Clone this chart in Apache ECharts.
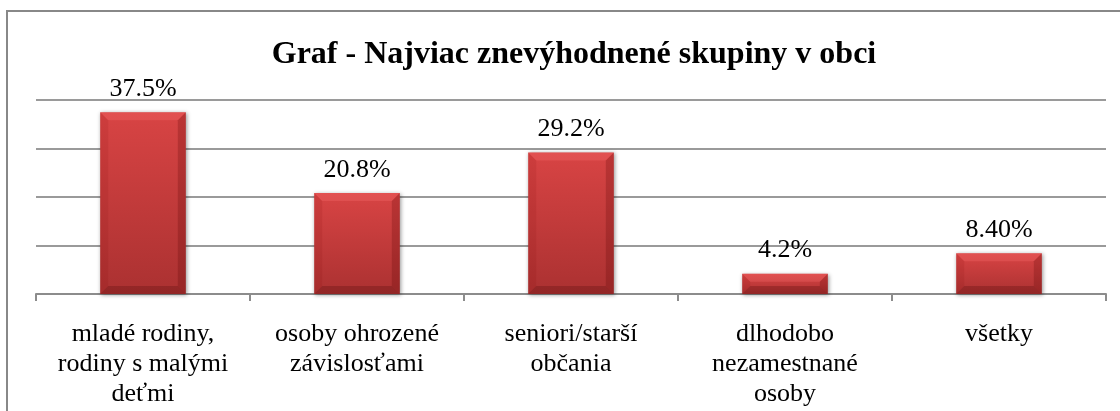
<!DOCTYPE html>
<html>
<head>
<meta charset="utf-8">
<script src="https://cdn.jsdelivr.net/npm/echarts@6/dist/echarts.min.js"></script>
<style>
  html, body { margin: 0; padding: 0; background: #fff; }
  #chart { width: 1120px; height: 411px; }
</style>
</head>
<body>
<div id="chart"></div>
<script>
// data
const categories = [
  "mladé rodiny,\nrodiny s malými\ndeťmi",
  "osoby ohrozené\nzávislosťami",
  "seniori/starší\nobčania",
  "dlhodobo\nnezamestnané\nosoby",
  "všetky",
];
const values = [37.5, 20.8, 29.2, 4.2, 8.4];
const valueLabels = ["37.5%", "20.8%", "29.2%", "4.2%", "8.40%"];

const serif = '"Liberation Serif", "Times New Roman", serif';

// bar with bevel edges, like the office chart
function renderBar(params, api) {
  const idx = api.value(0);
  const v = api.value(1);
  const base = api.coord([idx, 0]);
  const top = api.coord([idx, v]);
  const w = api.size([1, 0])[0] * 0.4;
  const x0 = base[0] - w / 2;
  const x1 = base[0] + w / 2;
  const y0 = top[1];
  const y1 = base[1];
  const b = Math.min(8, (y1 - y0) / 2);
  return {
    type: "group",
    children: [
      {
        type: "rect",
        shape: { x: x0, y: y0, width: w, height: y1 - y0 },
        style: {
          fill: new echarts.graphic.LinearGradient(0, 0, 0, 1, [
            { offset: 0, color: "#d84444" },
            { offset: 1, color: "#ab3131" },
          ]),
          shadowBlur: 4,
          shadowOffsetX: 1,
          shadowOffsetY: 1,
          shadowColor: "rgba(0,0,0,0.4)",
        },
      },
      {
        // top bevel
        type: "polygon",
        shape: { points: [[x0, y0], [x1, y0], [x1 - b, y0 + b], [x0 + b, y0 + b]] },
        style: { fill: "rgba(255,120,120,0.25)" },
      },
      {
        // left bevel
        type: "polygon",
        shape: { points: [[x0, y0], [x0 + b, y0 + b], [x0 + b, y1 - b], [x0, y1]] },
        style: { fill: "rgba(120,0,0,0.1)" },
      },
      {
        // right bevel
        type: "polygon",
        shape: { points: [[x1, y0], [x1 - b, y0 + b], [x1 - b, y1 - b], [x1, y1]] },
        style: { fill: "rgba(80,0,0,0.22)" },
      },
      {
        // bottom bevel
        type: "polygon",
        shape: { points: [[x0, y1], [x0 + b, y1 - b], [x1 - b, y1 - b], [x1, y1]] },
        style: { fill: "rgba(60,0,0,0.22)" },
      },
      {
        type: "text",
        style: {
          x: base[0],
          y: y0 - 10,
          text: valueLabels[idx],
          font: "26px " + serif,
          fill: "#000",
          align: "center",
          verticalAlign: "bottom",
        },
      },
    ],
  };
}

const myChart = echarts.init(document.getElementById("chart"));
const option = {
  animation: false,
  title: {
    text: "Graf - Najviac znevýhodnené skupiny v obci",
    left: 574,
    top: 39,
    textAlign: "center",
    padding: 0,
    textStyle: {
      fontFamily: serif,
      fontSize: 32,
      fontWeight: "bold",
      color: "#000",
    },
  },
  graphic: [
    {
      // outer frame
      type: "rect",
      shape: { x: 7, y: 11, width: 1200, height: 500 },
      style: { fill: "none", stroke: "#888", lineWidth: 2 },
      silent: true,
    },
  ],
  grid: {
    left: 36,
    right: 14,
    top: 100,
    bottom: 117,
  },
  xAxis: {
    type: "category",
    data: categories,
    axisLine: { lineStyle: { color: "#8c8c8c", width: 2 } },
    axisTick: { show: true, length: 7, lineStyle: { color: "#8c8c8c", width: 2 } },
    axisLabel: {
      interval: 0,
      margin: 25,
      fontFamily: serif,
      fontSize: 26,
      lineHeight: 30,
      color: "#000",
      align: "center",
    },
  },
  yAxis: {
    type: "value",
    min: 0,
    max: 40,
    interval: 10,
    axisLine: { show: false },
    axisTick: { show: false },
    axisLabel: { show: false },
    splitLine: { lineStyle: { color: "#9a9a9a", width: 2 } },
  },
  series: [
    {
      type: "custom",
      renderItem: renderBar,
      data: values.map((v, i) => [i, v]),
      encode: { x: 0, y: 1 },
      z: 3,
    },
  ],
};
myChart.setOption(option);
window.addEventListener("resize", function () {
  myChart.resize();
});
</script>
</body>
</html>
